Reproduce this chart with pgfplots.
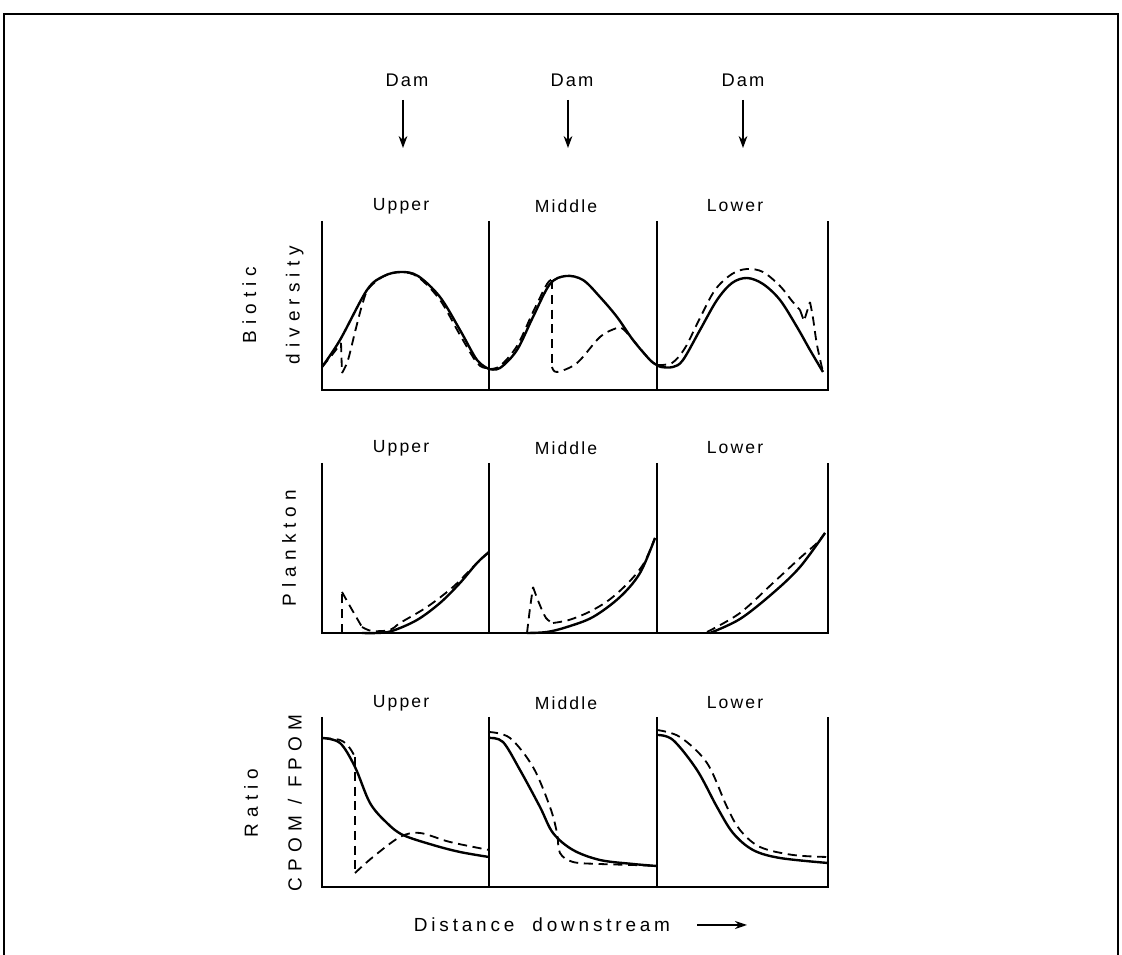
\documentclass[border=0pt]{standalone}
\usepackage{fontspec}
\setmainfont{Liberation Sans}
\usepackage{pgfplots}
\pgfplotsset{compat=1.18}
\usetikzlibrary{arrows.meta}

\pgfplotsset{
  panel/.style={scale only axis, hide axis, clip=false, xmin=0, ymin=0, anchor=south west},
  sol/.style={black, line width=1.7pt, smooth, tension=0.55, mark=none},
  das/.style={black, line width=1.3pt, dash pattern=on 6.5pt off 4pt, smooth, tension=0.55, mark=none},
  dasl/.style={black, line width=1.3pt, dash pattern=on 6.5pt off 4pt, sharp plot, mark=none},
}
\newcommand\lab[1]{{\addfontfeatures{LetterSpace=12}#1}}
\newcommand\ylab[1]{{\addfontfeatures{LetterSpace=32}#1}}

\begin{document}
\begin{tikzpicture}
\path[use as bounding box] (0,0) rectangle (280.5mm,238.75mm);
% outer frame
\draw[line width=1.4pt] (1mm,-1mm) -- (1mm,235.25mm) -- (279.5mm,235.25mm) -- (279.5mm,-1mm);

% Dam labels and arrows
\foreach \x/\a in {101.75/100.75, 143/142, 185.75/185.75}{
  \node[font=\fontsize{13}{15}\selectfont] at (\x mm,218.75mm) {\lab{Dam}};
  \draw[line width=0.9pt, -{Stealth[length=3mm,width=2.2mm]}] (\a mm,213.75mm) -- (\a mm,201.75mm);
}

% column labels
\foreach \y in {187.25, 126.75, 63}{
  \node[font=\fontsize{12.5}{15}\selectfont] at (100.25mm,\y mm) {\lab{Upper}};
  \node[font=\fontsize{12.5}{15}\selectfont] at (141.5mm,\y mm) {\lab{Middle}};
  \node[font=\fontsize{12.5}{15}\selectfont] at (183.75mm,\y mm) {\lab{Lower}};
}

% row frames
\foreach \b/\t in {141.25/183.5, 80.5/123, 17/59.5}{
  \draw[line width=0.9pt] (80.5mm,\t mm) -- (80.5mm,\b mm) -- (207mm,\b mm) -- (207mm,\t mm);
  \draw[line width=0.9pt] (122.25mm,\t mm) -- (122.25mm,\b mm);
  \draw[line width=0.9pt] (164.25mm,\t mm) -- (164.25mm,\b mm);
}

% y labels
\node[rotate=90, align=center, font=\fontsize{13.5}{31}\selectfont] at (68.25mm,162.5mm) {\ylab{Biotic}\\\ylab{diversity}};
\node[rotate=90, font=\fontsize{13.5}{16}\selectfont] at (72.25mm,101.75mm) {\ylab{Plankton}};
\node[rotate=90, align=center, font=\fontsize{13.5}{31}\selectfont] at (68.25mm,38mm) {\ylab{Ratio}\\\ylab{CPOM / FPOM}};

\node[font=\fontsize{13.5}{16}\selectfont] at (135.5mm,7.5mm) {{\addfontfeatures{LetterSpace=20}Distance\ \ downstream}};
\draw[line width=1pt, -{Stealth[length=3mm,width=2mm]}] (174.25mm,7.5mm) -- (186.75mm,7.5mm);

%%% Row 1: Biotic diversity
\begin{axis}[panel, at={(80.5mm,141.25mm)}, width=41.75mm, height=42.25mm, xmax=167, ymax=169]
\addplot[sol] coordinates {(0,23)(18,50)(45,100)(62,114)(79,118)(96,114)(118,93)(138,60)(155,30)(167,21)};
\addplot[das] coordinates {(0,23)(10,35)(19,47)};
\addplot[dasl] coordinates {(19,47)(20,17)};
\addplot[das] coordinates {(20,17)(26,30)(34,62)(41,88)(47,102)(62,114)(79,118)(96,113)(118,90)(138,55)(155,27)(164,22)};
\end{axis}
\begin{axis}[panel, at={(122.25mm,141.25mm)}, width=42mm, height=42.25mm, xmax=168, ymax=169]
\addplot[sol] coordinates {(0,21)(11,22)(28,40)(44,73)(61,106)(77,114)(94,110)(111,93)(128,73)(144,50)(161,30)(168,25)};
\addplot[das] coordinates {(0,21)(11,24)(28,44)(44,78)(58,106)(63,110)};
\addplot[dasl] coordinates {(63,110)(63,23)};
\addplot[das] coordinates {(63,23)(68,18)(88,27)(111,53)(128,62)(134,61)(144,50)(161,30)(168,25)};
\end{axis}
\begin{axis}[panel, at={(164.25mm,141.25mm)}, width=42.75mm, height=42.25mm, xmax=171, ymax=169]
\addplot[sol] coordinates {(0,25)(4,23)(16,23)(26,30)(43,60)(60,90)(75,107)(90,112)(106,106)(123,90)(140,63)(153,40)(166,18)};
\addplot[das] coordinates {(0,25)(15,27)(28,42)(42,70)(58,100)(75,116)(90,121)(106,118)(123,104)(135,89)(143,80)};
\addplot[dasl] coordinates {(143,80)(147,69)(153,88)};
\addplot[das] coordinates {(153,88)(156,72)(160,45)(166,18)};
\end{axis}

%%% Row 2: Plankton
\begin{axis}[panel, at={(80.5mm,80.5mm)}, width=41.75mm, height=42.5mm, xmax=167, ymax=170]
\addplot[sol] coordinates {(40,0)(55,0)(70,2)(95,13)(118,30)(138,50)(155,70)(167,81)};
\addplot[dasl] coordinates {(20,0)(20,41)};
\addplot[das] coordinates {(20,41)(29,25)(40,6)};
\addplot[das] coordinates {(40,6)(50,2)(68,3)(78,10)(105,26)(131,46)(151,66)(167,81)};
\end{axis}
\begin{axis}[panel, at={(122.25mm,80.5mm)}, width=42mm, height=42.5mm, xmax=168, ymax=170]
\addplot[sol] coordinates {(38,0)(58,1)(78,6)(104,16)(131,36)(151,60)(166,95)};
\addplot[dasl] coordinates {(38,0)(41,25)(44,46)};
\addplot[das] coordinates {(44,46)(50,30)(57,15)(64,10)};
\addplot[das] coordinates {(64,10)(80,13)(100,21)(120,33)(140,51)(155,70)(166,95)};
\end{axis}
\begin{axis}[panel, at={(164.25mm,80.5mm)}, width=42.75mm, height=42.5mm, xmax=171, ymax=170]
\addplot[sol] coordinates {(53,0)(83,14)(116,40)(143,66)(168,100)};
\addplot[das] coordinates {(50,1)(83,20)(116,50)(143,75)(160,90)(168,100)};
\end{axis}

%%% Row 3: Ratio CPOM/FPOM
\begin{axis}[panel, at={(80.5mm,17mm)}, width=41.75mm, height=42.5mm, xmax=167, ymax=170]
\addplot[sol] coordinates {(0,149)(18,144)(33,120)(48,84)(65,64)(81,52)(111,42)(138,35)(167,30)};
\addplot[das] coordinates {(0,149)(18,147)(27,140)(33,130)};
\addplot[dasl] coordinates {(33,130)(33,14)};
\addplot[das] coordinates {(33,14)(51,30)(78,50)(98,54)(128,45)(167,37)};
\end{axis}
\begin{axis}[panel, at={(122.25mm,17mm)}, width=42mm, height=42.5mm, xmax=168, ymax=170]
\addplot[sol] coordinates {(0,149)(14,145)(31,117)(51,80)(64,54)(84,37)(111,27)(144,23)(168,21)};
\addplot[das] coordinates {(0,155)(21,149)(44,120)(61,80)(68,54)(71,34)(84,25)(111,23)(144,22)(168,21)};
\end{axis}
\begin{axis}[panel, at={(164.25mm,17mm)}, width=42.75mm, height=42.5mm, xmax=171, ymax=170]
\addplot[sol] coordinates {(0,152)(16,147)(40,117)(60,80)(76,54)(96,37)(123,29)(171,24)};
\addplot[das] coordinates {(0,157)(23,150)(50,124)(70,80)(83,57)(103,40)(136,32)(171,30)};
\end{axis}
\end{tikzpicture}
\end{document}
